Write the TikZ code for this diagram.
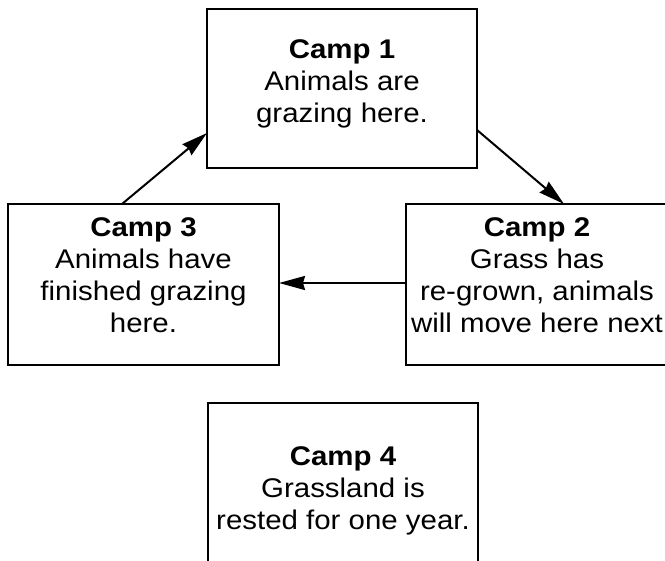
\documentclass[tikz,border=0pt]{standalone}
\usepackage{fontspec}
\setmainfont{Liberation Sans}[FakeStretch=1.09]
\usetikzlibrary{arrows.meta,calc}
\begin{document}
\begin{tikzpicture}[x=1pt,y=-1pt,
  box/.style={draw,line width=2.2pt,inner sep=0pt,outer sep=0pt},
  lbl/.style={align=center,font=\fontsize{27}{32}\selectfont,inner sep=0pt},
  arr/.style={line width=2pt,-{Stealth[length=26pt,width=14pt,inset=2pt]}}]
\useasboundingbox (0,0) rectangle (665,561);
\clip (0,0) rectangle (665,561);
\node[box,minimum width=270pt,minimum height=159pt] (c1) at (342,88.5) {};
\node[box,minimum width=271pt,minimum height=161pt] (c3) at (143.5,284.5) {};
\node[box,minimum width=270pt,minimum height=161pt] (c2) at (541,284.5) {};
\node[box,minimum width=270pt,minimum height=166pt] (c4) at (343,486) {};
\node[lbl] (t1) at (342,84) {\textbf{Camp 1}\\Animals are\\grazing here.};
\node[lbl] (t3) at (143.5,275) {\textbf{Camp 3}\\Animals have\\finished grazing\\here.};
\node[lbl] (t2) at (537,275) {\textbf{Camp 2}\\Grass has\\re-grown, animals\\will move here next};
\node[lbl] (t4) at (343,491) {\textbf{Camp 4}\\Grassland is\\rested for one year.};
\draw[arr] ($(c3.north west)+(114,0)$) -- ($(c1.south west)+(0,-35)$);
\draw[arr] ($(c1.north east)+(0,121)$) -- ($(c2.north west)+(158,0)$);
\draw[arr] ($(c2.west)+(0,-1.5)$) -- ($(c3.east)+(0,-1.5)$);
\end{tikzpicture}
\end{document}
